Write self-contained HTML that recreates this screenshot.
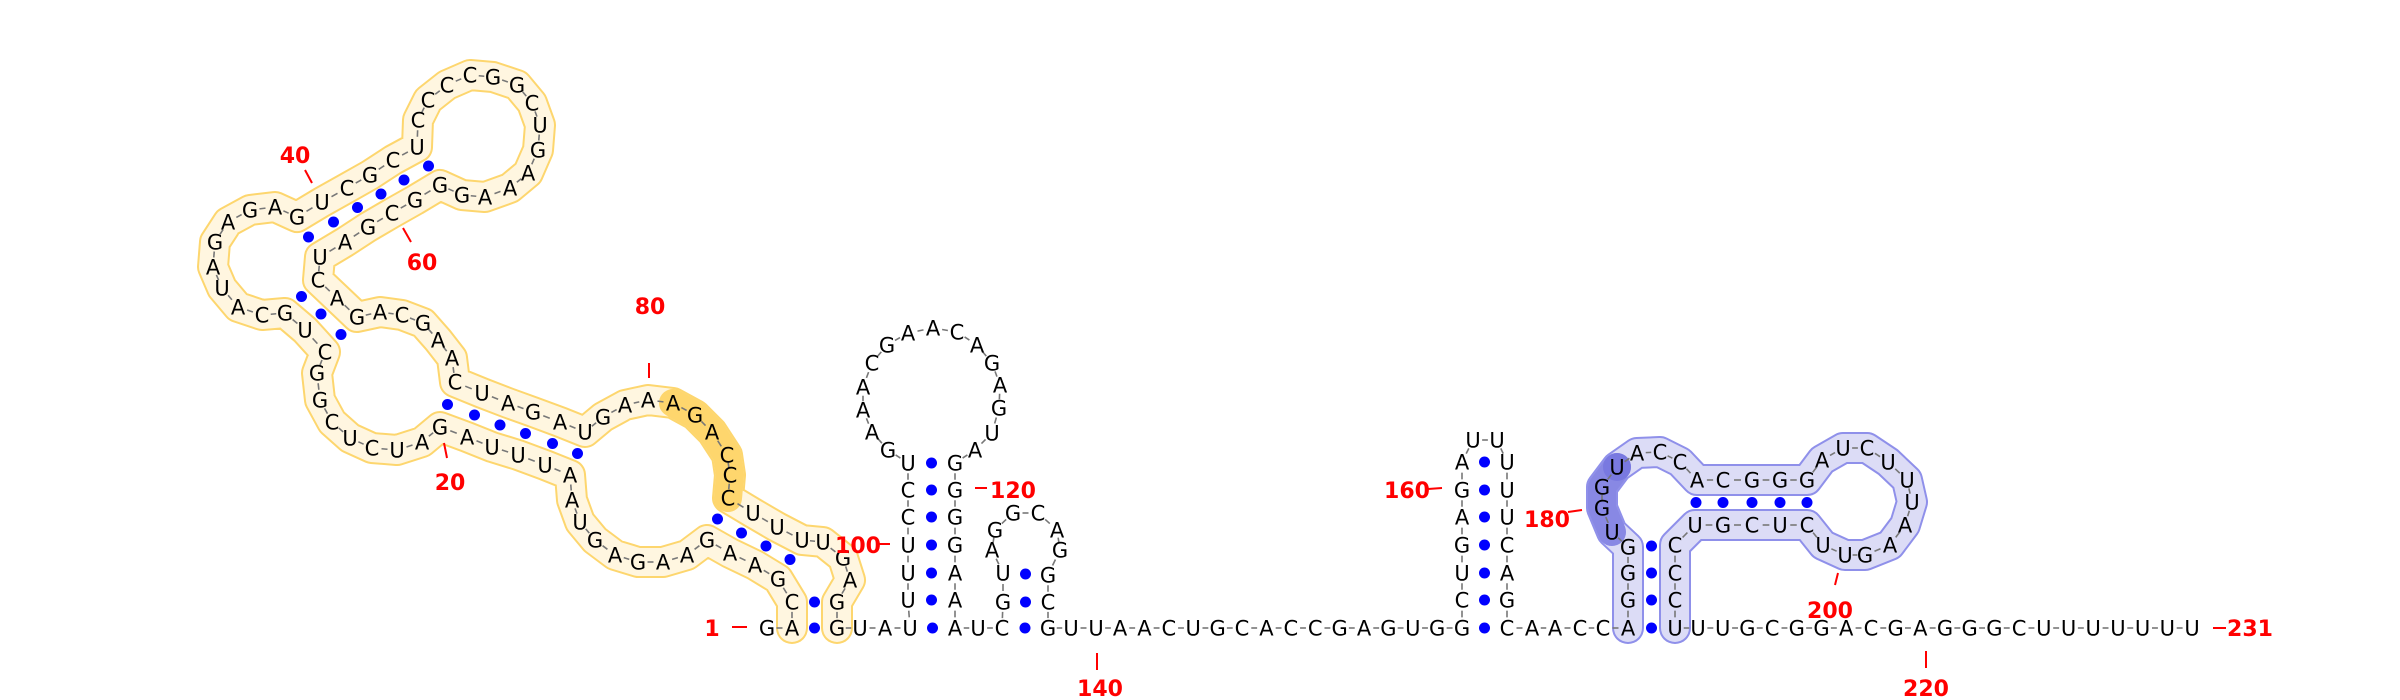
<!DOCTYPE html>
<html><head><meta charset="utf-8"><style>
html,body{margin:0;padding:0;background:#fff;}
svg{display:block;}
text{font-family:"DejaVu Sans","Liberation Sans",sans-serif;}
</style></head><body>
<svg id="rna" width="2400" height="700" viewBox="0 0 2400 700" xmlns="http://www.w3.org/2000/svg">
<g id="bands"></g>
<g id="links"></g>
<g id="pairs"></g>
<g id="nts"></g>
<g id="labels"></g>
</svg>
<script>
const seq = [
"GACGAAGAAGAGUAAUUUAG",
"AUCUCGGCUGCAUAGAGAGU",
"CGCUCCCCGGCUGAAAGGGC",
"GAUCAGACGAACUAGAUGAA",
"AGACCCUUUUGAGGUAUUUU",
"CCUGAAACGAACAGAGUAGG",
"GGAAAUCGUAGGCAGGCGUU",
"AACUGCACCGAGUG",
"GCUGAGAUUUUUCAGC",
"AACC",
"AGGGUGGUACCACGGGAUCUUUAAGUUCUCGUCCCU",
"UUGCGGACGAGGGCUUUUUUU"].join("");
const pos = [
[767,628],[792,628],[792,602],[778,579],[755,565],[730,553],[707,540],[687,555],[663,562],[638,562],
[615,555],[595,540],[580,522],[572,500],[570,475],[545,465],[518,455],[492,447],[467,437],[440,427],
[422,442],[397,450],[372,448],[350,438],[332,422],[320,400],[317,373],[325,352],[305,330],[285,313],
[262,315],[238,307],[222,288],[213,267],[215,242],[228,222],[250,210],[275,207],[297,217],[322,202],
[347,188],[370,175],[393,160],[417,147],[418,120],[428,100],[447,85],[470,75],[493,77],[517,85],
[532,103],[540,125],[538,150],[528,173],[510,188],[485,197],[462,195],[440,185],[415,200],[392,213],
[368,227],[345,242],[320,257],[318,280],[337,298],[357,317],[380,312],[402,315],[423,323],[438,340],
[452,358],[455,382],[482,393],[508,403],[533,412],[560,422],[585,432],[603,417],[625,405],[648,400],
[673,403],[695,415],[712,432],[727,455],[730,475],[728,498],[753,513],[777,527],[802,540],[823,542],
[843,558],[850,580],[837,602],[837,628],[860,628],[885,628],[910,628],[908,600],[908,573],[908,545],
[908,517],[908,490],[908,463],[888,450],[872,432],[863,410],[863,387],[872,363],[887,345],[908,333],
[933,328],[957,332],[977,345],[992,363],[1000,385],[999,408],[992,433],[975,450],[955,463],[955,490],
[955,517],[955,545],[955,573],[955,600],[955,628],[978,628],[1002,628],[1003,602],[1003,573],[992,550],
[995,530],[1013,513],[1038,513],[1057,530],[1060,550],[1048,575],[1048,602],[1048,628],[1071,628],[1096,628]
];
for(let i=0;i<14;i++) pos.push([1120+i*24.4,628]);
pos.push([1462,628],[1462,600],[1462,573],[1462,545],[1462,517],[1462,490],[1462,462],[1473,440],[1497,440],
[1507,462],[1507,490],[1507,517],[1507,545],[1507,573],[1507,600],[1507,628],
[1532,628],[1555,628],[1580,628],[1603,628],[1628,628],[1628,600],[1628,573],[1628,547],[1612,532],
[1602,508],[1602,487],[1617,467],[1637,453],[1660,452],[1680,462],[1697,480],[1723,480],[1752,480],[1780,480],
[1807,480],[1822,460],[1843,448],[1867,448],[1888,462],[1907,480],[1912,502],[1905,525],[1890,545],[1865,555],
[1845,555],[1823,545],[1807,525],[1780,525],[1752,525],[1723,525],[1695,525],[1675,545],[1675,573],[1675,600],
[1675,628]);
for(let i=0;i<21;i++) pos.push([1698+i*24.7,628]);
const pairs = [[2,94],[3,93],[4,89],[5,88],[6,87],[7,86],[15,77],[16,76],[17,75],[18,74],[19,73],[20,72],
[28,66],[29,65],[30,64],[39,63],[40,62],[41,61],[42,60],[43,59],[44,58],
[97,125],[98,124],[99,123],[100,122],[101,121],[102,120],[103,119],[127,138],[128,137],[129,136],
[155,170],[156,169],[157,168],[158,167],[159,166],[160,165],[161,164],
[175,210],[176,209],[177,208],[178,207],[186,206],[187,205],[188,204],[189,203],[190,202]];
const labelText = ["1","20","40","60","80","100","120","140","160","180","200","220","231"];
const labelXY = [[712,628],[450,482],[295,155],[422,262],[650,306],[858,545],[1013,490],[1100,688],[1407,490],[1547,519],[1830,610],[1926,688],[2250,628]];
const tickXY = [[732,627,747,627],[444,443,447,458],[305,170,312,183],[403,228,411,242],[649,363,649,378],[877,544,890,544],[975,488,987,488],[1097,653,1097,670],[1428,489,1442,488],[1568,512,1582,510],[1838,573,1835,585],[1926,651,1926,668],[2213,628,2226,628]];
const NS="http://www.w3.org/2000/svg";
function mk(tag,attrs,parent){const e=document.createElementNS(NS,tag);for(const k in attrs)e.setAttribute(k,attrs[k]);parent.appendChild(e);return e;}
const bands=document.getElementById('bands');
function band(a,b,outer,inner,ow,iw,name){
  const pts=pos.slice(a-1,b).map(p=>p.join(',')).join(' ');
  const o=mk('polyline',{points:pts,fill:'none',stroke:outer,'stroke-width':ow,'stroke-linejoin':'round','stroke-linecap':'round'},bands);
  
  
  const i=mk('polyline',{points:pts,fill:'none',stroke:inner,'stroke-width':iw,'stroke-linejoin':'round','stroke-linecap':'round'},bands);
  
  
}
band(2,94,'#fdd66e','#fff6e0',32,28,'yellow-domain');
band(81,86,'rgba(253,205,80,0.55)','rgba(253,205,80,0.55)',28,28,'yellow-highlight');
band(175,210,'#8f90ea','#dcdcf6',32,28,'blue-domain');
band(179,182,'rgba(120,120,225,0.6)','rgba(120,120,225,0.6)',28,28,'blue-highlight');
const hc=mk('circle',{cx:1617,cy:467,r:14,fill:'rgba(110,110,220,0.55)'},bands);


const links=document.getElementById('links');
for(let i=0;i<pos.length-1;i++){
  const [x1,y1]=pos[i],[x2,y2]=pos[i+1];
  const l=mk('line',{x1:x1+(x2-x1)*0.38,y1:y1+(y2-y1)*0.38,x2:x1+(x2-x1)*0.62,y2:y1+(y2-y1)*0.62,stroke:'#777','stroke-width':1.6},links);
  
  
}
const pg=document.getElementById('pairs');
pairs.forEach(([a,b])=>{
  const p=pos[a-1],q=pos[b-1];
  const c=mk('circle',{cx:(p[0]+q[0])/2,cy:(p[1]+q[1])/2,r:5.5,fill:'#0000ff'},pg);
  
  
});
const ng=document.getElementById('nts');
pos.forEach((p,i)=>{
  const t=mk('text',{x:p[0],y:p[1]+7.5,'text-anchor':'middle','font-size':21,fill:'#000'},ng);
  t.textContent=seq[i]||'U';
  
  
});
const lg=document.getElementById('labels');
labelText.forEach((s,i)=>{
  const [x,y]=labelXY[i];
  const t=mk('text',{x:x,y:y+8,'text-anchor':'middle','font-size':22,'font-weight':'bold',fill:'#ff0000'},lg);
  t.textContent=s;
  
  
  const k=tickXY[i];
  const l=mk('line',{x1:k[0],y1:k[1],x2:k[2],y2:k[3],stroke:'#ff0000','stroke-width':2},lg);
  
  
});
</script>
</body></html>
